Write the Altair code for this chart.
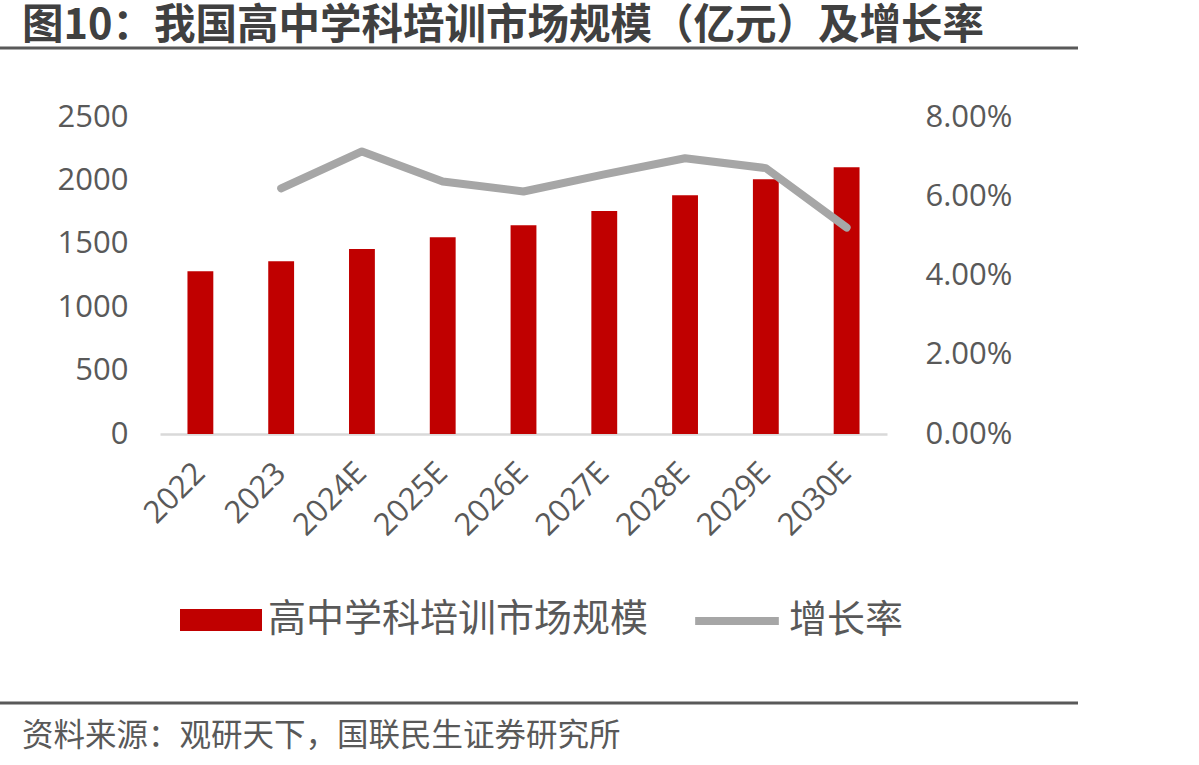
import altair as alt
import pandas as pd

# 高中学科培训市场规模（亿元）及增长率
years = ["2022", "2023", "2024E", "2025E", "2026E", "2027E", "2028E", "2029E", "2030E"]
market_size = [1283, 1362, 1459, 1551, 1646, 1759, 1882, 2009, 2103]
growth_rate = [None, 0.0620, 0.0713, 0.0637, 0.0612, 0.0655, 0.0696, 0.0671, 0.0521]

bar_name = "高中学科培训市场规模"
line_name = "增长率"
title_text = "图10：我国高中学科培训市场规模（亿元）及增长率"
source_text = "资料来源：观研天下，国联民生证券研究所"

FONT = "Open Sans, Noto Sans CJK SC, sans-serif"
CJK = "Noto Sans CJK SC, sans-serif"
TEXT_GRAY = "#595959"

df = pd.DataFrame({
    "year": years,
    "size": market_size,
    "rate": growth_rate,
    "bar_series": bar_name,
    "line_series": line_name,
})

PLOT_W, PLOT_H = 727, 317
PAD_L, PAD_T = 160, 117

x_enc = alt.X(
    "year:N",
    sort=years,
    title=None,
    scale=alt.Scale(paddingInner=0.68, paddingOuter=0.34),
    axis=alt.Axis(
        labelAngle=-45,
        labelAlign="right",
        labelBaseline="middle",
        labelFontSize=31,
        labelColor=TEXT_GRAY,
        labelFont=FONT,
        labelPadding=34,
        ticks=False,
        domainColor="#D9D9D9",
        domainWidth=2.5,
    ),
)

bars = alt.Chart(df).mark_bar(color="#C00000").encode(
    x=x_enc,
    y=alt.Y(
        "size:Q",
        title=None,
        scale=alt.Scale(domain=[0, 2500], nice=False),
        axis=alt.Axis(
            values=[0, 500, 1000, 1500, 2000, 2500],
            format="d",
            grid=False,
            domain=False,
            ticks=False,
            labelFontSize=31,
            labelColor=TEXT_GRAY,
            labelFont=FONT,
            labelPadding=32,
        ),
    ),
    color=alt.Color(
        "bar_series:N",
        scale=alt.Scale(domain=[bar_name], range=["#C00000"]),
        legend=alt.Legend(
            title=None,
            orient="none",
            legendX=20,
            legendY=462,
            symbolType="M-1,-0.27L1,-0.27L1,0.27L-1,0.27Z",
            symbolSize=6724,
            symbolStrokeWidth=0,
            labelFontSize=38,
            labelFont=CJK,
            labelColor=TEXT_GRAY,
            labelOffset=6,
            labelLimit=0,
        ),
    ),
)

line = alt.Chart(df).transform_filter(
    "datum.rate != null"
).mark_line(strokeWidth=8, strokeCap="round", strokeJoin="round").encode(
    x=alt.X("year:N", sort=years),
    y=alt.Y(
        "rate:Q",
        title=None,
        scale=alt.Scale(domain=[0, 0.08], nice=False),
        axis=alt.Axis(
            orient="right",
            values=[0, 0.02, 0.04, 0.06, 0.08],
            format=".2%",
            grid=False,
            domain=False,
            ticks=False,
            labelFontSize=31,
            labelColor=TEXT_GRAY,
            labelFont=FONT,
            labelPadding=38,
        ),
    ),
    stroke=alt.Stroke(
        "line_series:N",
        scale=alt.Scale(domain=[line_name], range=["#A6A6A6"]),
        legend=alt.Legend(
            title=None,
            orient="none",
            legendX=531,
            legendY=458,
            symbolType="M-1,0L1,0",
            symbolSize=7000,
            symbolStrokeWidth=8,
            labelFontSize=38,
            labelFont=CJK,
            labelColor=TEXT_GRAY,
            labelOffset=6,
            labelLimit=0,
        ),
    ),
)

plot = alt.layer(bars, line).resolve_scale(y="independent")

# header, footer and separator rules, placed in pixels around the plot area
title_df = pd.DataFrame({"t": [title_text]})
title_mark = alt.Chart(title_df).mark_text(
    align="left", baseline="middle", font=CJK, fontSize=41.5, fontWeight="bold", color="#404040"
).encode(text="t:N", x=alt.value(22 - PAD_L), y=alt.value(27 - PAD_T))

source_df = pd.DataFrame({"t": [source_text]})
source_mark = alt.Chart(source_df).mark_text(
    align="left", baseline="middle", font=CJK, fontSize=31.5, color=TEXT_GRAY
).encode(text="t:N", x=alt.value(22 - PAD_L), y=alt.value(737 - PAD_T))

one_row = pd.DataFrame({"k": [0]})


def separator(y_px):
    return alt.Chart(one_row).mark_rule(color="#595959", strokeWidth=3).encode(
        x=alt.value(0 - PAD_L), x2=alt.value(1078 - PAD_L), y=alt.value(y_px - PAD_T)
    )


chart = alt.layer(plot, separator(48), separator(703), title_mark, source_mark).properties(
    width=PLOT_W,
    height=PLOT_H,
    autosize=alt.AutoSizeParams(type="none"),
    padding={"left": PAD_L, "top": PAD_T, "right": 1199 - PAD_L - PLOT_W, "bottom": 765 - PAD_T - PLOT_H},
    background="white",
).configure_view(stroke=None)

chart.save("out.html", embed_options={"renderer": "svg", "actions": False})
